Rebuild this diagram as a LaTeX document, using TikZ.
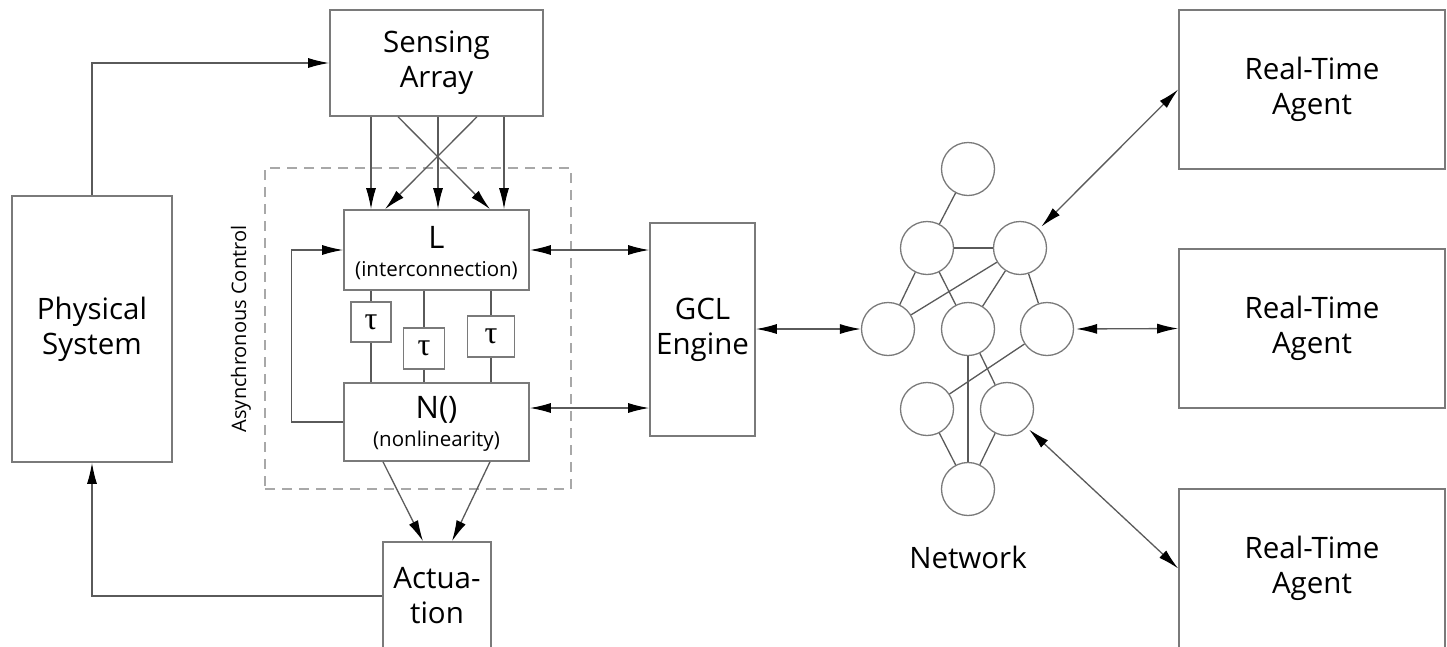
\documentclass[tikz,border=0pt]{standalone}
\usepackage{fontspec}
\setmainfont{Open Sans}
\newfontfamily\taufont{Liberation Serif}
\usetikzlibrary{arrows.meta}
\definecolor{boxcol}{HTML}{7A7A7A}
\definecolor{linecol}{HTML}{5A5A5A}
\definecolor{dashcol}{HTML}{A8A8A8}
\newcommand\mybig{\fontsize{29.5}{35}\selectfont}
\newcommand\mysmall{\fontsize{20.5}{24}\selectfont}
\tikzset{
  box/.style={draw=boxcol, line width=1.6pt, fill=white, inner sep=0pt, align=center, font=\mybig},
  taubox/.style={draw=boxcol, line width=1.6pt, fill=white, inner sep=0pt, font=\taufont\fontsize{32}{32}\selectfont},
  netnode/.style={circle, draw=boxcol, line width=1.3pt, minimum size=53pt, inner sep=0pt},
  conn/.style={draw=linecol, line width=1.3pt},
  arr/.style={conn, -{Latex[length=21pt,width=10pt,color=black]}},
  darr/.style={conn, {Latex[length=21pt,width=10pt,color=black]}-{Latex[length=21pt,width=10pt,color=black]}},
  dashbox/.style={draw=dashcol, line width=2.4pt, dash pattern=on 10pt off 7pt, inner sep=0pt},
  lbl/.style={inner sep=0pt, align=center, font=\mybig}
}
\begin{document}
\begin{tikzpicture}[x=1pt,y=-1pt]
\useasboundingbox (0,0) rectangle (1447,646);
\clip (0,0) rectangle (1447,646);

% control frame
\node[dashbox, minimum width=306pt, minimum height=321pt] (ctrl) at (418,328.5) {};
\node[inner sep=0pt, rotate=90, font=\fontsize{20}{24}\selectfont] (actl) at (241,329) {Asynchronous Control};

% boxes
\node[box, minimum width=160pt, minimum height=266pt] (phys) at (92,329) {Physical\\System};
\node[box, minimum width=213pt, minimum height=106pt] (sens) at (436.5,63) {Sensing\\Array};
\node[box, minimum width=185pt, minimum height=80pt] (Lbox) at (436.5,250) {};
\node[lbl, font=\fontsize{31}{31}\selectfont] (Ltxt) at (436.5,237) {L};
\node[lbl, font=\mysmall] (Lsub) at (436.5,271) {(interconnection)};
\node[box, minimum width=185pt, minimum height=78pt] (Nbox) at (436.5,422) {};
\node[lbl, font=\fontsize{31}{31}\selectfont] (Ntxt) at (436.5,410) {N()};
\node[lbl, font=\mysmall] (Nsub) at (436.5,441) {(nonlinearity)};
\node[taubox, minimum width=40pt, minimum height=40pt] (t1) at (371,322) {τ};
\node[taubox, minimum width=41pt, minimum height=41pt] (t2) at (424,348.5) {τ};
\node[taubox, minimum width=47pt, minimum height=41pt] (t3) at (491,336.5) {τ};
\node[box, minimum width=105pt, minimum height=213pt] (gcl) at (702.5,329.5) {GCL\\Engine};
\node[box, minimum width=108pt, minimum height=108pt] (act) at (437,596) {Actua-\\tion};
\node[box, minimum width=266pt, minimum height=159pt] (a1) at (1312,89.5) {Real-Time\\Agent};
\node[box, minimum width=266pt, minimum height=159pt] (a2) at (1312,328.5) {Real-Time\\Agent};
\node[box, minimum width=266pt, minimum height=159pt] (a3) at (1312,568.5) {Real-Time\\Agent};

% network
\node[netnode] (n1) at (968,169) {};
\node[netnode] (n2) at (927,248) {};
\node[netnode] (n3) at (1020,248) {};
\node[netnode] (n4) at (888,329) {};
\node[netnode] (n5) at (968,329) {};
\node[netnode] (n6) at (1047,329) {};
\node[netnode] (n7) at (927,409) {};
\node[netnode] (n8) at (1007,409) {};
\node[netnode] (n9) at (968,489) {};
\node[lbl] (netl) at (968,557) {Network};

\draw[conn] (n1) -- (n2);
\draw[conn] (n2) -- (n3);
\draw[conn] (n2) -- (n4);
\draw[conn] (n2) -- (n5);
\draw[conn] (n3) -- (n4);
\draw[conn] (n3) -- (n5);
\draw[conn] (n3) -- (n6);
\draw[conn] (n5) -- (n8);
\draw[conn] (n5) -- (n9);
\draw[conn] (n6) -- (n7);
\draw[conn] (n7) -- (n9);
\draw[conn] (n8) -- (n9);

% physical loop
\draw[arr] (phys.north) |- (sens.west);
\draw[arr] (act.west) -| (phys.south);

% sensing to L
\draw[arr] ([xshift=-65.5pt]sens.south) -- ([xshift=-65.5pt]Lbox.north);
\draw[arr] ([xshift=1.5pt]sens.south) -- ([xshift=1.5pt]Lbox.north);
\draw[arr] ([xshift=67.5pt]sens.south) -- ([xshift=67.5pt]Lbox.north);
\draw[arr] ([xshift=-38.5pt]sens.south) -- ([xshift=53.5pt]Lbox.north);
\draw[arr] ([xshift=40.5pt]sens.south) -- ([xshift=-51.5pt]Lbox.north);

% tau lines
\foreach \t in {t1,t2,t3}{
  \draw[conn] (\t.north |- Lbox.south) -- (\t.north);
  \draw[conn] (\t.south) -- (\t.south |- Nbox.north);
}

% feedback
\draw[arr] (Nbox.west) -- ++(-52,0) |- (Lbox.west);

% to GCL
\draw[darr] (Lbox.east) -- (Lbox.east -| gcl.west);
\draw[darr] ([yshift=14pt]Nbox.east) -- ([yshift=14pt]Nbox.east -| gcl.west);
\draw[darr] (gcl.east |- n4.west) -- (n4.west);

% N to actuation
\draw[arr] ([xshift=-53.5pt]Nbox.south) -- ([xshift=-14pt]act.north);
\draw[arr] ([xshift=53.5pt]Nbox.south) -- ([xshift=15pt]act.north);

% agents
\draw[darr, shorten <=3pt] (n3) -- (a1.west);
\draw[darr, shorten <=2pt] (n6.east) -- (a2.west);
\draw[darr, shorten <=3pt] (n8) -- (a3.west);
\end{tikzpicture}
\end{document}
